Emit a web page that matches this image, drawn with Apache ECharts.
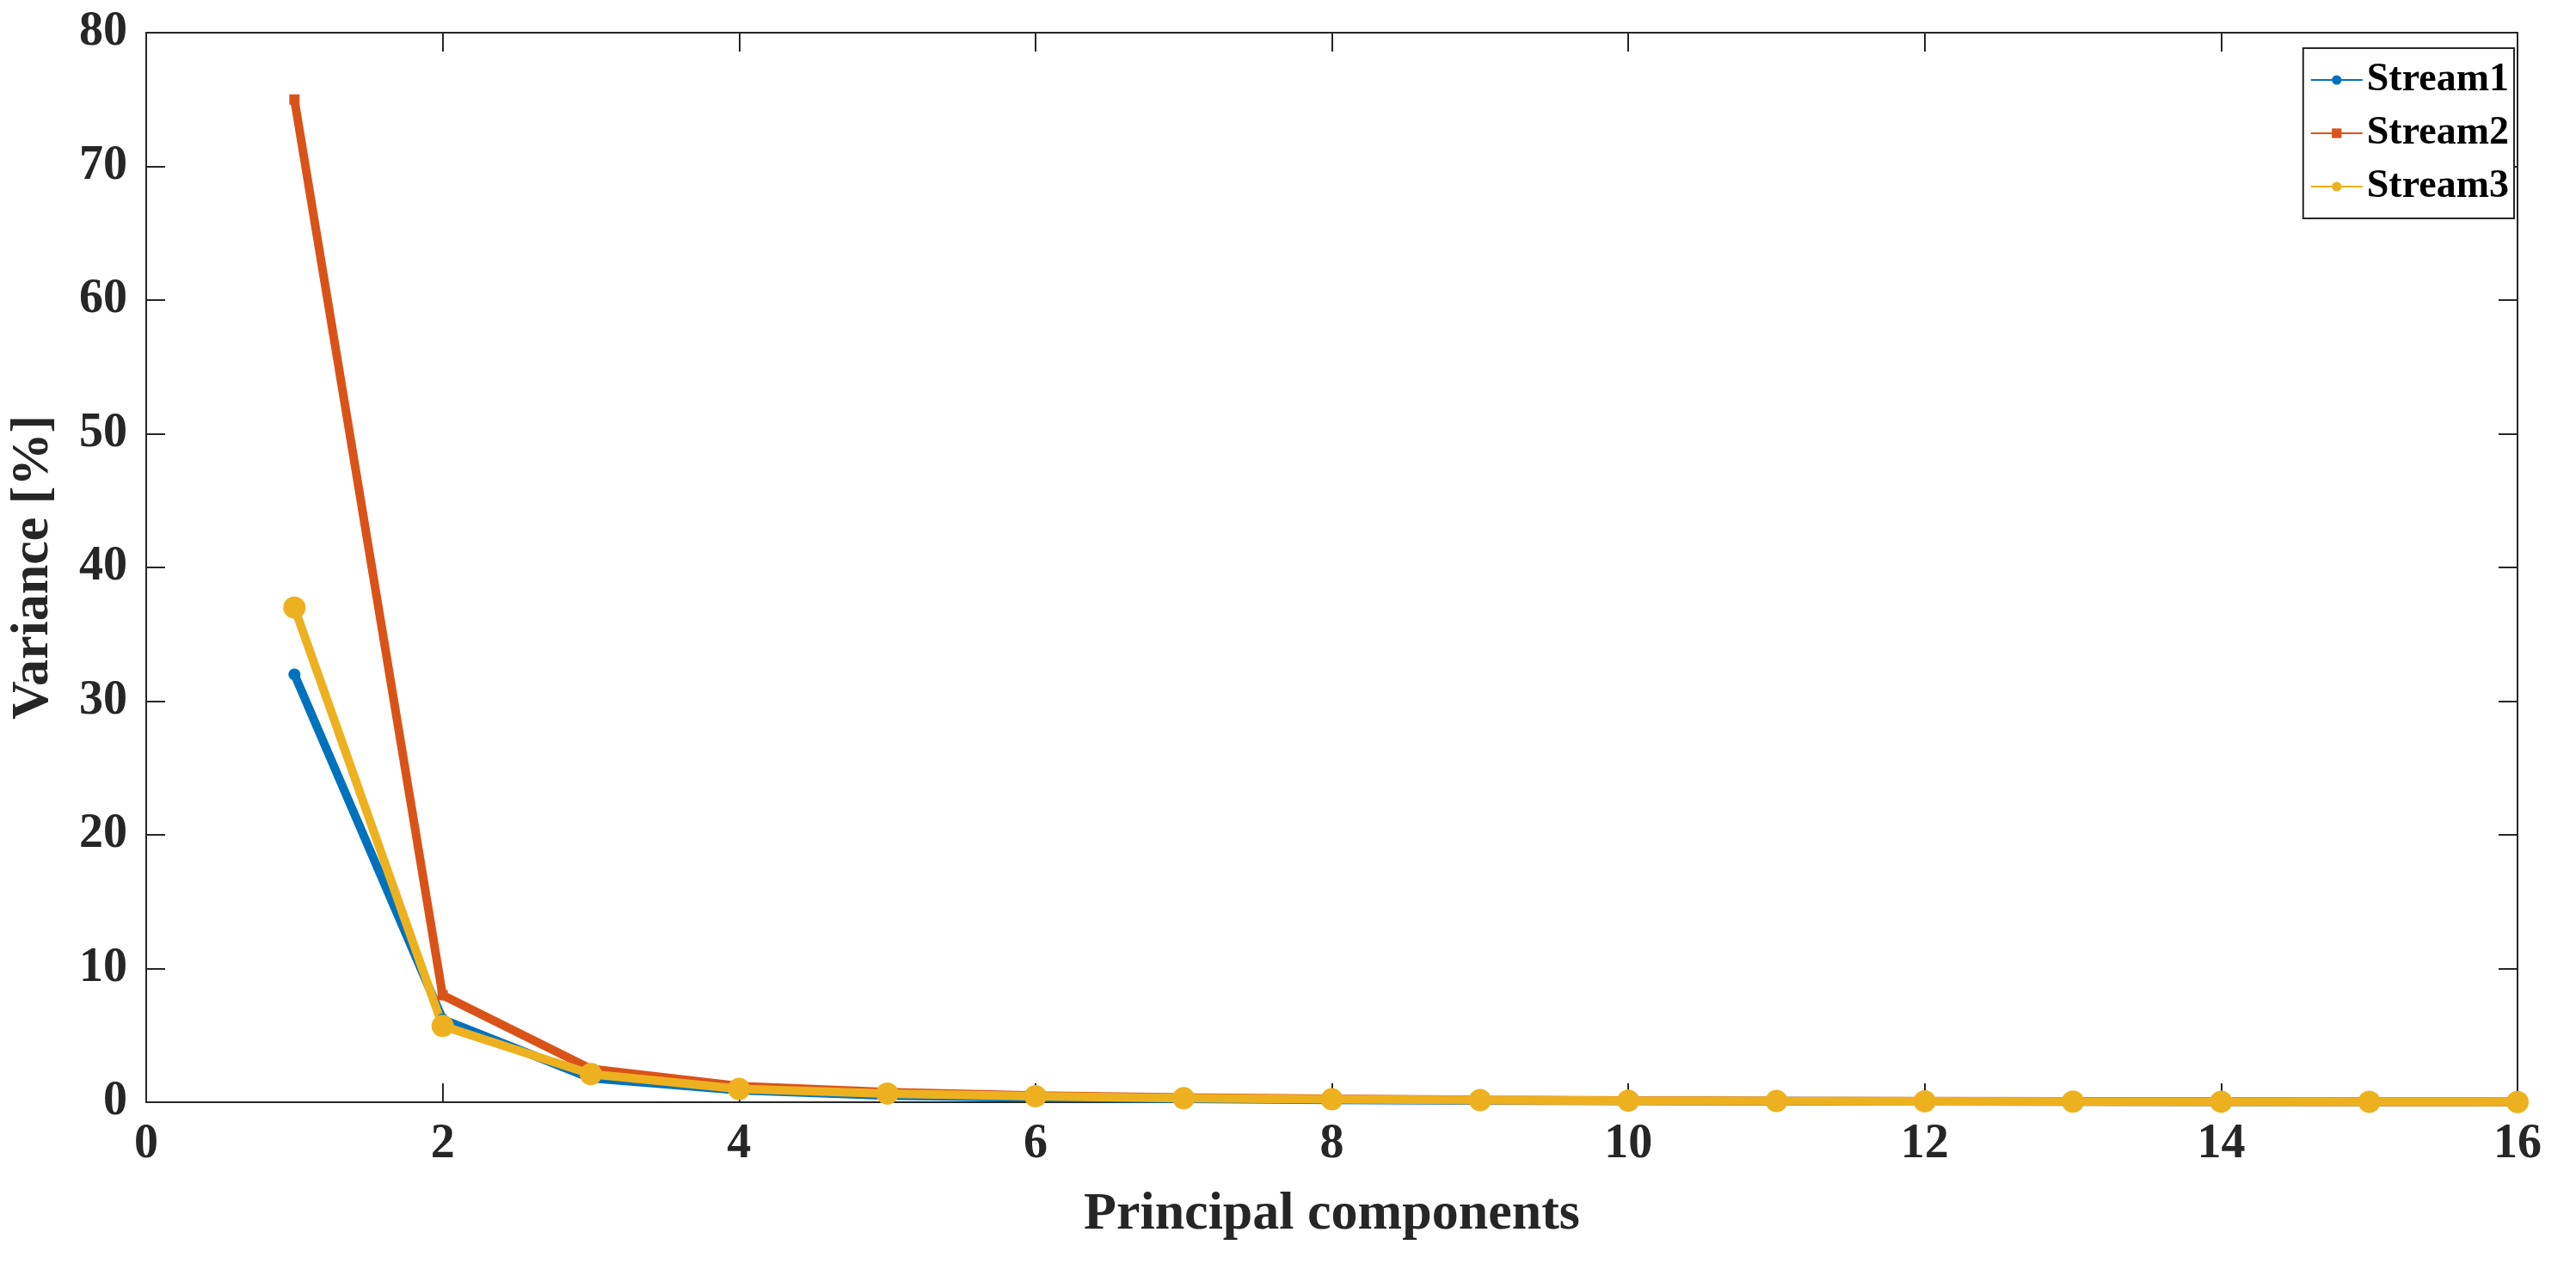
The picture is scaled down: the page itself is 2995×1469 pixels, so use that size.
<!DOCTYPE html>
<html><head><meta charset="utf-8">
<script src="https://cdn.jsdelivr.net/npm/echarts@6/dist/echarts.min.js"></script>
<style>html,body{margin:0;background:#fff}#c{width:2995px;height:1469px}</style>
</head><body><div id="c"></div>
<script>
var components = [1,2,3,4,5,6,7,8,9,10,11,12,13,14,15,16];
var stream1 = [32, 6.2, 1.8, 0.9, 0.5, 0.35, 0.25, 0.18, 0.13, 0.1, 0.08, 0.06, 0.05, 0.04, 0.03, 0.02];
var stream2 = [75, 8, 2.5, 1.2, 0.75, 0.5, 0.35, 0.25, 0.18, 0.13, 0.1, 0.08, 0.06, 0.05, 0.04, 0.03];
var stream3 = [37, 5.7, 2.1, 1.0, 0.65, 0.45, 0.3, 0.22, 0.16, 0.12, 0.09, 0.07, 0.05, 0.04, 0.03, 0.02];

var font = 'Liberation Serif';
function pairs(v) { return components.map(function (c, i) { return [c, v[i]]; }); }
function axisBase(show) {
  return {
    axisLine: { show: true, onZero: false, lineStyle: { color: '#262626', width: 2 } },
    axisTick: { show: true, inside: true, length: 22, lineStyle: { color: '#262626', width: 2 } },
    axisLabel: { show: show, color: '#262626', fontFamily: font, fontWeight: 'bold', fontSize: 56, margin: 22 },
    splitLine: { show: false }
  };
}
var chart = echarts.init(document.getElementById('c'));
var xb = axisBase(true), xt = axisBase(false), yl = axisBase(true), yr = axisBase(false);
chart.setOption({
  animation: false,
  grid: { left: 166, right: 68, top: 38, bottom: 187 },
  legend: {
    right: 72, top: 56, orient: 'vertical', itemWidth: 60, itemHeight: 14, itemGap: 16,
    backgroundColor: '#fff', borderColor: '#262626', borderWidth: 2, padding: [14, 6, 14, 8],
    textStyle: { fontFamily: font, fontWeight: 'bold', fontSize: 46, color: '#000' },
    data: ['Stream1', 'Stream2', 'Stream3']
  },
  xAxis: [
    Object.assign(xb, { type: 'value', min: 0, max: 16, interval: 2, name: 'Principal components',
      nameLocation: 'middle', nameGap: 100,
      nameTextStyle: { fontFamily: font, fontWeight: 'bold', fontSize: 62, color: '#262626' } }),
    Object.assign(xt, { type: 'value', min: 0, max: 16, interval: 2, position: 'top' })
  ],
  yAxis: [
    Object.assign(yl, { type: 'value', min: 0, max: 80, interval: 10, name: 'Variance [%]',
      nameLocation: 'middle', nameGap: 100,
      nameTextStyle: { fontFamily: font, fontWeight: 'bold', fontSize: 62, color: '#262626' } }),
    Object.assign(yr, { type: 'value', min: 0, max: 80, interval: 10, position: 'right' })
  ],
  series: [
    { name: 'Stream1', type: 'line', data: pairs(stream1), color: '#0072BD',
      lineStyle: { width: 10 }, symbol: 'circle', symbolSize: 14 },
    { name: 'Stream2', type: 'line', data: pairs(stream2), color: '#D95319',
      lineStyle: { width: 10 }, symbol: 'rect', symbolSize: 12 },
    { name: 'Stream3', type: 'line', data: pairs(stream3), color: '#EDB120',
      lineStyle: { width: 10 }, symbol: 'circle', symbolSize: 26 }
  ]
});
</script></body></html>
